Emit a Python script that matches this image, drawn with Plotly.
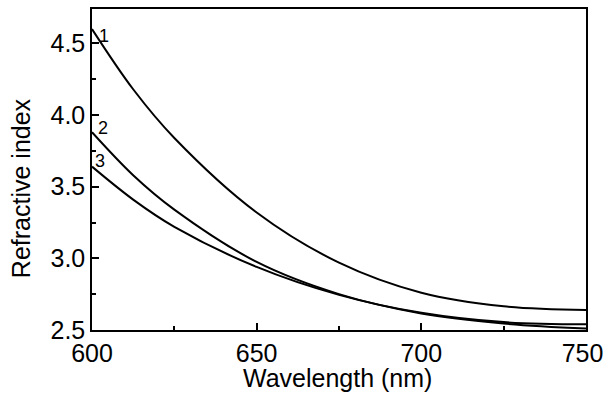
import plotly.graph_objects as go

wavelength = [600, 612.5, 625, 650, 675, 700, 725, 750]
n_curve1 = [4.60, 4.18, 3.84, 3.32, 2.97, 2.76, 2.665, 2.64]
n_curve2 = [3.88, 3.58, 3.34, 2.975, 2.75, 2.615, 2.545, 2.51]
n_curve3 = [3.64, 3.41, 3.22, 2.94, 2.745, 2.62, 2.555, 2.54]
curve_labels = ["1", "2", "3"]
label_x = [603.5, 603.2, 602.3]
label_y = [4.555, 3.91, 3.68]

x_ticks = [600, 650, 700, 750]
x_ticktext = ["600", "650", "700", "750\u00a0"]
y_ticks = [2.5, 3.0, 3.5, 4.0, 4.5]
y_ticktext = ["2.5", "3.0", "3.5", "4.0", "4.5"]

FONT = "Arial, Liberation Sans, sans-serif"

fig = go.Figure()
for ys in (n_curve1, n_curve2, n_curve3):
    fig.add_trace(go.Scatter(x=wavelength, y=ys, mode="lines",
                             line=dict(color="black", width=2, shape="spline", smoothing=1.0),
                             showlegend=False, hoverinfo="skip"))

for t, lx, ly in zip(curve_labels, label_x, label_y):
    fig.add_annotation(x=lx, y=ly, text=t, showarrow=False,
                       font=dict(family=FONT, size=18, color="black"))

fig.add_annotation(x=-0.1437, y=0.442, xref="paper", yref="paper",
                   xanchor="center", yanchor="middle",
                   text="Refractive index", textangle=-90, showarrow=False,
                   font=dict(family=FONT, size=25, color="black"))
fig.add_annotation(x=0.497, y=-0.148, xref="paper", yref="paper",
                   xanchor="center", yanchor="middle",
                   text="Wavelength (nm)", showarrow=False,
                   font=dict(family=FONT, size=25, color="black"))

fig.update_layout(
    width=608, height=394,
    margin=dict(l=92, r=22, t=9, b=64),
    paper_bgcolor="white", plot_bgcolor="white",
    font=dict(family=FONT, size=25, color="black"),
    xaxis=dict(range=[600, 750], tickvals=x_ticks, ticktext=x_ticktext,
               ticks="inside", ticklen=7, tickwidth=1.5, tickcolor="black",
               minor=dict(dtick=25, tick0=600, ticks="inside", ticklen=4, tickwidth=1.5, tickcolor="black"),
               showline=True, linecolor="black", linewidth=1.5, mirror=True,
               showgrid=False, zeroline=False, automargin=False, ticklabelstandoff=0,
               ticklabeloverflow="allow"),
    yaxis=dict(range=[2.5, 4.74], tickvals=y_ticks, ticktext=y_ticktext,
               ticks="inside", ticklen=7, tickwidth=1.5, tickcolor="black",
               minor=dict(dtick=0.25, tick0=2.5, ticks="inside", ticklen=4, tickwidth=1.5, tickcolor="black"),
               showline=True, linecolor="black", linewidth=1.5, mirror=True,
               showgrid=False, zeroline=False, automargin=False),
)

fig.write_html("out.html", config={"displayModeBar": False},
               post_script="document.body.style.margin='0';document.body.style.overflow='hidden';")
